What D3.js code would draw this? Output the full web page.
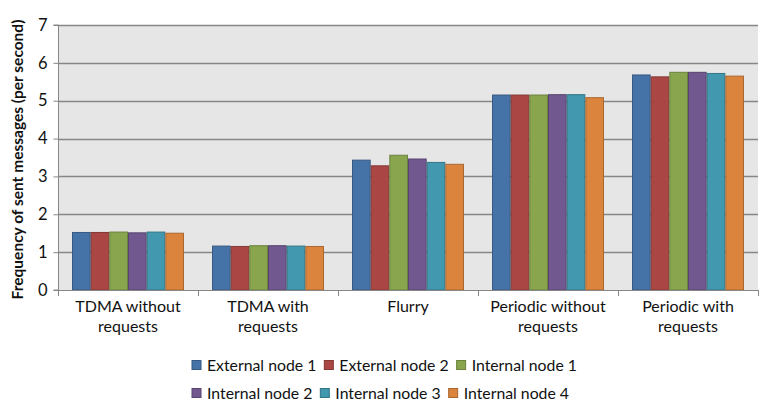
<!DOCTYPE html>
<html>
<head>
<meta charset="utf-8">
<script src="https://cdn.jsdelivr.net/npm/d3@7"></script>
<style>
  html, body { margin: 0; padding: 0; background: #fff; }
  svg { display: block; font-family: Lato, "Liberation Sans", sans-serif; }
</style>
</head>
<body>
<svg id="chart" width="761" height="401"></svg>
<script>
// Scenarios on the x axis (each label split onto two lines)
const categories = [
  ["TDMA without", "requests"],
  ["TDMA with", "requests"],
  ["Flurry"],
  ["Periodic without", "requests"],
  ["Periodic with", "requests"]
];

// Nodes (one bar per node inside each scenario)
const seriesNames = ["External node 1", "External node 2", "Internal node 1",
                     "Internal node 2", "Internal node 3", "Internal node 4"];
const seriesColors = ["#4572A7", "#AA4643", "#89A54E", "#71588F", "#4198AF", "#DB843D"];

// Frequency of sent messages per node, one array per node, in scenario order
const externalNode1 = [1.52, 1.16, 3.43, 5.15, 5.68];
const externalNode2 = [1.52, 1.15, 3.28, 5.15, 5.63];
const internalNode1 = [1.53, 1.17, 3.56, 5.15, 5.75];
const internalNode2 = [1.51, 1.17, 3.46, 5.16, 5.75];
const internalNode3 = [1.53, 1.16, 3.37, 5.16, 5.72];
const internalNode4 = [1.50, 1.15, 3.32, 5.08, 5.65];
const seriesValues = [externalNode1, externalNode2, internalNode1,
                      internalNode2, internalNode3, internalNode4];

const yTicks = [0, 1, 2, 3, 4, 5, 6, 7];
const yTitle = "Frequency of sent messages (per second)";

const svg = d3.select("#chart");
const plot = { left: 58, right: 758, top: 25, bottom: 290 };

const catKeys = categories.map(c => c.join(" "));
const x0 = d3.scaleBand()
  .domain(catKeys)
  .range([plot.left, plot.right])
  .paddingInner(0.2)
  .paddingOuter(0.1);
const x1 = d3.scaleBand()
  .domain(seriesNames)
  .range([0, x0.bandwidth()]);
const y = d3.scaleLinear().domain([0, 7]).range([plot.bottom, plot.top]);
const color = d3.scaleOrdinal().domain(seriesNames).range(seriesColors);

// Plot background
svg.append("rect")
  .attr("x", plot.left).attr("y", plot.top)
  .attr("width", plot.right - plot.left).attr("height", plot.bottom - plot.top)
  .attr("fill", "#e6e6e6");

// Horizontal gridlines
svg.append("g")
  .selectAll("line")
  .data(yTicks.filter(t => t > 0))
  .join("line")
  .attr("x1", plot.left).attr("x2", plot.right)
  .attr("y1", d => Math.round(y(d)) + 0.5).attr("y2", d => Math.round(y(d)) + 0.5)
  .attr("stroke", "#868686").attr("stroke-width", 1.3);

// Bars
const groups = svg.append("g")
  .selectAll("g")
  .data(catKeys)
  .join("g")
  .attr("transform", d => `translate(${x0(d)},0)`);

groups.selectAll("rect")
  .data((d, i) => seriesNames.map((s, j) => ({ series: s, value: seriesValues[j][i] })))
  .join("rect")
  .attr("x", d => x1(d.series) + 0.5)
  .attr("y", d => y(d.value))
  .attr("width", x1.bandwidth() - 1)
  .attr("height", d => plot.bottom - y(d.value))
  .attr("fill", d => color(d.series))
  .attr("stroke", d => d3.color(color(d.series)).darker(0.7))
  .attr("stroke-width", 1);

// Y axis
const yAxis = d3.axisLeft(y).tickValues(yTicks).tickSize(5).tickPadding(6).tickFormat(d3.format("d"));
const yg = svg.append("g")
  .attr("transform", `translate(${plot.left + 0.5},0)`)
  .call(yAxis);
yg.select(".domain").attr("stroke", "#868686").attr("d", `M-5,${y(0)}H0V${y(7)}H-5`);
yg.selectAll(".tick line").attr("stroke", "#868686");
yg.selectAll(".tick text")
  .attr("font-size", 16.5).attr("fill", "#111")
  .attr("font-family", "Lato, 'Liberation Sans', sans-serif");

// X axis baseline with separators between scenarios
const xg = svg.append("g");
xg.append("line")
  .attr("x1", plot.left).attr("x2", plot.right)
  .attr("y1", plot.bottom + 0.5).attr("y2", plot.bottom + 0.5)
  .attr("stroke", "#868686");
const step = x0.step();
const separators = d3.range(catKeys.length + 1).map(i => plot.left + i * step);
xg.selectAll("line.sep")
  .data(separators)
  .join("line")
  .attr("class", "sep")
  .attr("x1", d => Math.round(d) + 0.5).attr("x2", d => Math.round(d) + 0.5)
  .attr("y1", plot.bottom).attr("y2", plot.bottom + 6)
  .attr("stroke", "#868686");

// Scenario labels
const labels = xg.selectAll("text.cat")
  .data(categories)
  .join("text")
  .attr("class", "cat")
  .attr("x", (d, i) => x0(catKeys[i]) + x0.bandwidth() / 2)
  .attr("y", 312)
  .attr("text-anchor", "middle")
  .attr("font-size", 16)
  .attr("fill", "#111");
labels.selectAll("tspan")
  .data(d => d)
  .join("tspan")
  .attr("x", function () { return this.parentNode.getAttribute("x"); })
  .attr("dy", (d, i) => i === 0 ? 0 : 20)
  .text(d => d);

// Y axis title
svg.append("text")
  .attr("transform", `translate(23,${(plot.top + plot.bottom) / 2 + 2}) rotate(-90)`)
  .attr("text-anchor", "middle")
  .attr("font-size", 15.5)
  .attr("font-weight", "bold")
  .attr("fill", "#111")
  .text(yTitle);

// Legend: two rows of three entries
const legendRows = [seriesNames.slice(0, 3), seriesNames.slice(3)];
const legendRowY = [365, 393];
const legend = svg.append("g");
legendRows.forEach((row, r) => {
  let cx = 192;
  row.forEach(name => {
    const item = legend.append("g").attr("transform", `translate(${cx},${legendRowY[r]})`);
    item.append("rect")
      .attr("x", 0).attr("y", -4.5)
      .attr("width", 9).attr("height", 9)
      .attr("fill", color(name))
      .attr("stroke", d3.color(color(name)).darker(0.7));
    const t = item.append("text")
      .attr("x", 15).attr("y", 5.5)
      .attr("font-size", 15.8)
      .attr("fill", "#111")
      .text(name);
    cx += 15 + t.node().getComputedTextLength() + 8;
  });
});
</script>
</body>
</html>
